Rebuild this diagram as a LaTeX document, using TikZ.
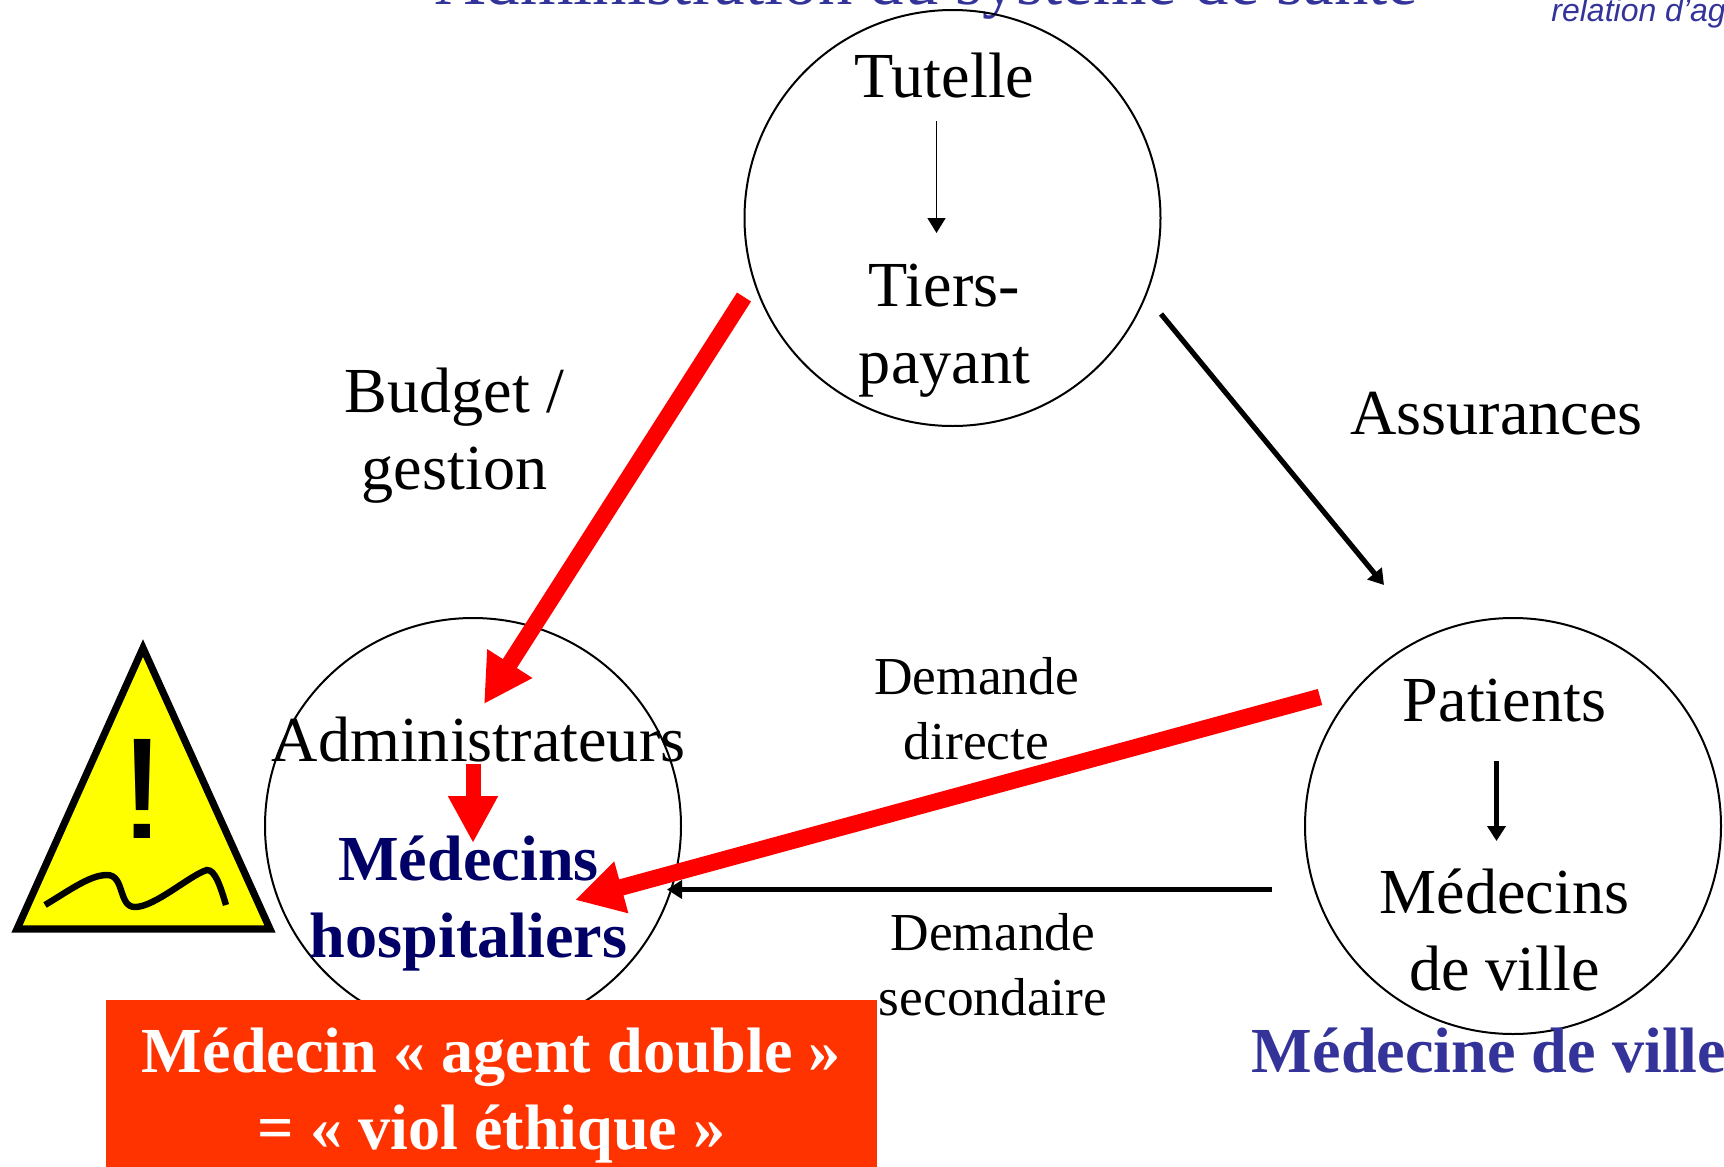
\documentclass[tikz,border=0pt]{standalone}
\usepackage{fontspec}
\usepackage{xcolor}
\setmainfont{Liberation Serif}
\setsansfont{Liberation Sans}
\usetikzlibrary{arrows.meta}
\definecolor{titleblue}{HTML}{333399}
\definecolor{hospblue}{HTML}{000066}
\definecolor{boxorange}{HTML}{FF3300}
\definecolor{signyellow}{HTML}{FFFF00}
\tikzset{
  ring/.style={draw=black,line width=1pt,circle,minimum size=416*0.5pt,inner sep=0pt},
  bigtext/.style={anchor=base,align=center,inner sep=0pt,font=\fontsize{32.1}{38.5}\selectfont},
  boldtext/.style={bigtext,font=\bfseries\fontsize{32.1}{38.5}\selectfont},
  smalltext/.style={anchor=base,align=center,inner sep=0pt,font=\fontsize{26.7}{32.5}\selectfont},
  redarrow/.style={draw=red,line width=8.3pt,-{Triangle[length=24pt,width=25pt,fill=red]}},
  blackarrow/.style={draw=black,line width=2.6pt,-{Triangle[length=7.5pt,width=9pt,fill=black]}}
}
\begin{document}
\begin{tikzpicture}[x=0.5pt,y=-0.5pt]
\useasboundingbox (0,0) rectangle (1724,1167);
\clip (0,0) rectangle (1724,1167);
\node[anchor=base,inner sep=0pt,text=titleblue,font=\fontsize{34.4}{40}\selectfont] (title) at (927,4) {Administration du système de santé};
\node[anchor=base west,inner sep=0pt,text=titleblue,font=\sffamily\itshape\fontsize{16}{18}\selectfont] (relation) at (1551,21) {relation d’agence};

\node[ring] (top) at (952.5,218) {};
\node[ring] (left) at (473,826) {};
\node[ring] (right) at (1513,826) {};

\node[bigtext] (tutelle) at (944.5,97) {Tutelle};
\node[bigtext] (tiers) at (944.5,383) {Tiers-\\payant};
\node[bigtext] (budget) at (454.5,489) {Budget /\\gestion};
\node[bigtext] (assur) at (1496.5,434) {Assurances};
\node[bigtext] (admin) at (478.5,761) {Administrateurs};
\node[boldtext,text=hospblue] (hosp) at (468.5,957) {Médecins\\hospitaliers};
\node[bigtext] (patients) at (1504.5,721) {Patients};
\node[bigtext] (ville) at (1504.5,990) {Médecins\\de ville};
\node[boldtext,text=titleblue] (medville) at (1489,1072) {Médecine de ville};
\node[smalltext] (directe) at (976.5,759) {Demande\\directe};
\node[smalltext] (second) at (993,1015) {Demande\\secondaire};

\coordinate (a1) at (744,297);
\coordinate (a2) at (484,704);
\coordinate (b1) at (473,764);
\coordinate (b2) at (473,843);
\coordinate (c1) at (1320,697);
\coordinate (c2) at (575,900);
\coordinate (d1) at (1272,889.5);
\coordinate (d2) at (667,889.5);
\coordinate (e1) at (1161,314);
\coordinate (e2) at (1384,585);
\coordinate (f1) at (936.5,121);
\coordinate (f2) at (936.5,233);
\coordinate (g1) at (1496.5,761);
\coordinate (g2) at (1496.5,841);

\draw[redarrow] (a1) -- (a2);
\draw[redarrow,line width=7.5pt,-{Triangle[length=23.5pt,width=23.5pt,fill=red]}] (b1) -- (b2);
\draw[redarrow] (c1) -- (c2);
\draw[blackarrow] (d1) -- (d2);
\draw[blackarrow] (e1) -- (e2);
\draw[blackarrow,line width=0.8pt] (f1) -- (f2);
\draw[blackarrow] (g1) -- (g2);

% warning sign
\draw[line width=3.6pt,line join=miter,fill=signyellow] (143,648) -- (270,929) -- (17,929) -- cycle;
\node[anchor=base,inner sep=0pt,font=\sffamily\fontsize{72}{80}\selectfont] (mark) at (143,838) {\scalebox{1.2}[1]{!}};
\draw[line width=3.2pt] (45,905) .. controls (70,890) and (90,875) .. (107,875)
  .. controls (125,875) and (118,907) .. (135,907) .. controls (155,907) and (190,875) .. (207,870)
  .. controls (215,870) and (220,885) .. (226,905);

\node[fill=boxorange,minimum width=771*0.5pt,minimum height=167*0.5pt,inner sep=0pt] (box) at (491,1083.5) {};
\node[boldtext,text=white] (agent) at (491.5,1149) {Médecin « agent double »\\= « viol éthique »};
\end{tikzpicture}
\end{document}
